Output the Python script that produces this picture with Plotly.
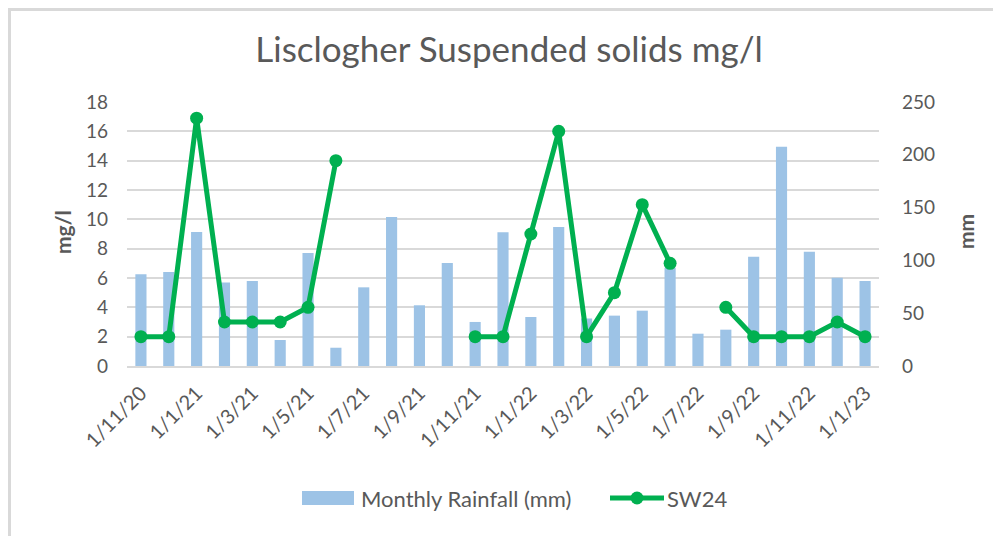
import plotly.graph_objects as go

months = ["1/11/20", "1/12/20", "1/1/21", "1/2/21", "1/3/21", "1/4/21", "1/5/21", "1/6/21",
          "1/7/21", "1/8/21", "1/9/21", "1/10/21", "1/11/21", "1/12/21", "1/1/22", "1/2/22",
          "1/3/22", "1/4/22", "1/5/22", "1/6/22", "1/7/22", "1/8/22", "1/9/22", "1/10/22",
          "1/11/22", "1/12/22", "1/1/23"]
rainfall_mm = [87, 89, 127, 79, 80.5, 24.6, 107, 17.3, 74.5, 141, 57.5, 97.5, 41.7, 126.6,
               46.4, 131.6, 45, 47.7, 52.4, 93, 30.6, 34.4, 103.5, 207.7, 108.2, 83.6, 80.5]
sw24 = [2, 2, 16.9, 3, 3, 3, 4, 14, None, None, None, None, 2, 2, 9, 16, 2, 5, 11, 7,
        None, 4, 2, 2, 2, 3, 2]
tick_labels = months[::2]

FONT = "Lato"
GREY = "#595959"
BAR_COLOR = "#9dc3e6"
LINE_COLOR = "#00b050"
BORDER = "#d9d9d9"

fig = go.Figure()
fig.add_trace(go.Bar(x=months, y=rainfall_mm, name="Monthly Rainfall (mm)",
                     marker=dict(color=BAR_COLOR, line=dict(width=0)), yaxis="y",
                     showlegend=False))
fig.add_trace(go.Scatter(x=months, y=sw24, name="SW24", mode="lines+markers",
                         line=dict(color=LINE_COLOR, width=5),
                         marker=dict(color=LINE_COLOR, size=13),
                         connectgaps=False, yaxis="y2", showlegend=False))

# page offset (body margin of the html page)
OFF = 8
FW, FH = 1001 - OFF, 536 - OFF
# plot area in screen coordinates
W0, W1, H0, H1 = 127, 879, 102, 366
pw, ph = W1 - W0, H1 - H0


def px(x):
    return (x - W0) / pw


def py(y):
    return (H1 - y) / ph


LEG_Y = 498

fig.update_layout(
    width=FW, height=FH,
    margin=dict(l=W0 - OFF, r=FW - (W1 - OFF), t=H0 - OFF, b=FH - (H1 - OFF), autoexpand=False),
    paper_bgcolor="white", plot_bgcolor="white",
    font=dict(family=FONT, color=GREY, size=18),
    title=dict(text="Lisclogher Suspended solids mg/l", x=px(509), xref="paper", xanchor="center",
               y=1 - (50 - OFF) / FH, yanchor="middle", font=dict(size=35, color=GREY, family=FONT)),
    bargap=0.6,
    showlegend=False,
    xaxis=dict(type="category", range=[-0.5, len(months) - 0.5], tickmode="array",
               tickvals=tick_labels, ticktext=tick_labels,
               tickangle=-45, tickfont=dict(size=20, color=GREY), showgrid=False,
               showline=True, linecolor="#d9d9d9", linewidth=1.5, ticks="",
               automargin=False, ticklabelstandoff=6),
    yaxis=dict(range=[0, 250], tickvals=[0, 50, 100, 150, 200, 250], side="right",
               showgrid=False, zeroline=False, tickfont=dict(size=19, color=GREY), ticks="",
               ticklabelstandoff=22, automargin=False),
    yaxis2=dict(range=[0, 18], dtick=2, side="left", overlaying="y", showgrid=True,
                gridcolor="#d9d9d9", gridwidth=1.5, zeroline=False,
                tickfont=dict(size=19, color=GREY), ticks="", ticklabelstandoff=18,
                automargin=False),
    annotations=[
        dict(text="<b>mg/l</b>", textangle=-90, xref="paper", yref="paper",
             x=px(62), y=py(232), xanchor="center", yanchor="middle", showarrow=False,
             font=dict(size=21, color=GREY, family=FONT)),
        dict(text="<b>mm</b>", textangle=-90, xref="paper", yref="paper",
             x=px(965), y=py(232), xanchor="center", yanchor="middle", showarrow=False,
             font=dict(size=21, color=GREY, family=FONT)),
        dict(text="Monthly Rainfall (mm)", xref="paper", yref="paper",
             x=px(359), y=py(LEG_Y), xanchor="left", yanchor="middle", showarrow=False,
             font=dict(size=22, color=GREY, family=FONT)),
        dict(text="SW24", xref="paper", yref="paper",
             x=px(665), y=py(LEG_Y), xanchor="left", yanchor="middle", showarrow=False,
             font=dict(size=22, color=GREY, family=FONT)),
    ],
    shapes=[
        dict(type="line", xref="paper", yref="paper",
             x0=px(OFF + 1.5), x1=px(OFF + 1.5), y0=py(560), y1=py(OFF + 1.5),
             line=dict(color=BORDER, width=3), layer="below"),
        dict(type="line", xref="paper", yref="paper",
             x0=px(OFF), x1=px(1020), y0=py(OFF + 1.5), y1=py(OFF + 1.5),
             line=dict(color=BORDER, width=3), layer="below"),
        dict(type="rect", xref="paper", yref="paper",
             x0=px(302), x1=px(354), y0=py(505), y1=py(491),
             fillcolor=BAR_COLOR, line=dict(width=0)),
        dict(type="line", xref="paper", yref="paper",
             x0=px(610), x1=px(664), y0=py(LEG_Y), y1=py(LEG_Y),
             line=dict(color=LINE_COLOR, width=5)),
        dict(type="circle", xref="paper", yref="paper",
             x0=px(630.5), x1=px(643.5), y0=py(LEG_Y + 6.5), y1=py(LEG_Y - 6.5),
             fillcolor=LINE_COLOR, line=dict(width=0)),
    ],
)

fig.write_html("out.html")
